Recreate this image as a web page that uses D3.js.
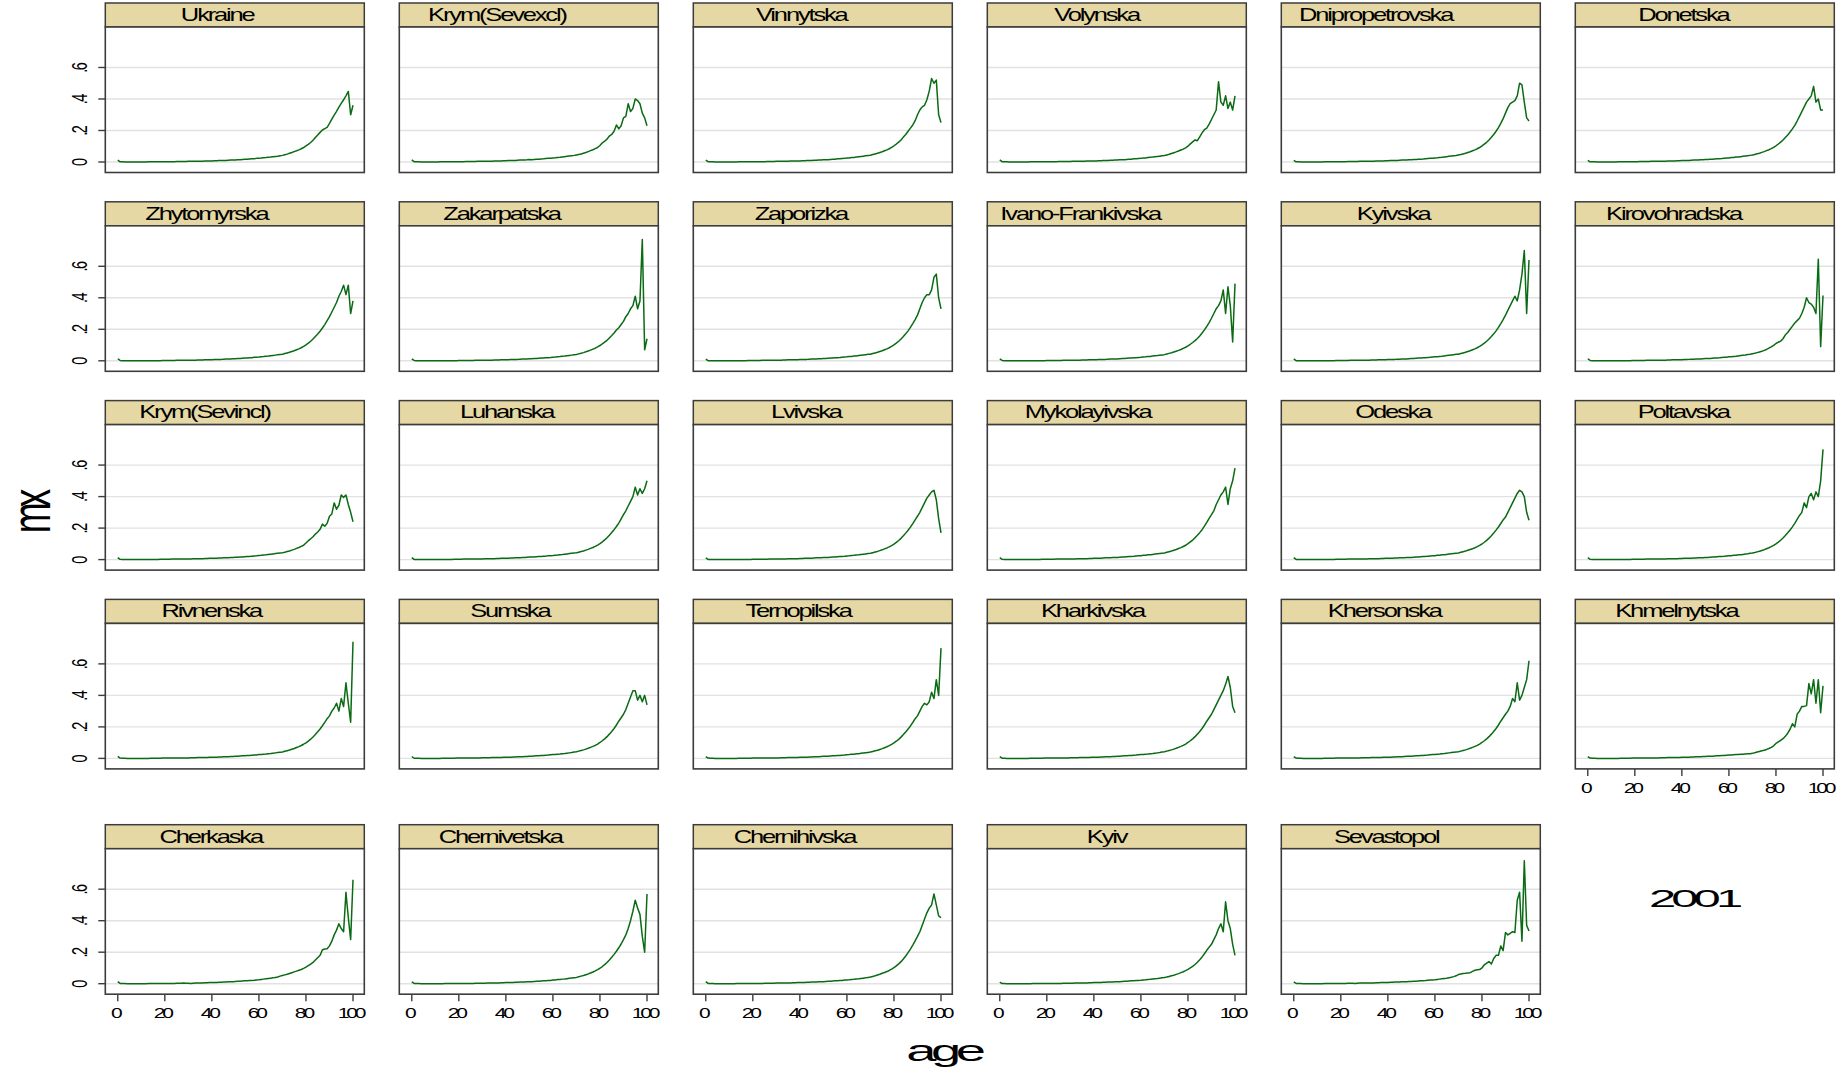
<!DOCTYPE html>
<html><head><meta charset="utf-8">
<script src="https://cdn.jsdelivr.net/npm/d3@7"></script>
<style>
html,body{margin:0;padding:0;background:#fff;}
svg{display:block;font-family:"Liberation Sans",Arial,Helvetica,sans-serif;}
</style></head><body>
<svg id="chart" width="1836" height="1072"></svg>
<script>
// Age-specific death rates (mx), Ukraine and its regions, 2001. One value per single year of age 0..100.
const ages = d3.range(0, 101);

const mxUkraine = [
.012,.001,.001,.000,.000,.000,.000,.000,.000,.000,
.000,.000,.000,.001,.001,.001,.001,.001,.001,.002,
.002,.002,.002,.002,.002,.003,.003,.003,.003,.003,
.004,.004,.004,.004,.005,.005,.005,.006,.006,.007,
.007,.008,.008,.009,.009,.010,.010,.011,.012,.012,
.013,.014,.015,.016,.017,.018,.019,.020,.021,.023,
.024,.025,.027,.028,.030,.031,.033,.035,.037,.040,
.042,.046,.050,.055,.060,.066,.071,.077,.084,.092,
.102,.112,.124,.138,.155,.172,.188,.203,.212,.220,
.245,.272,.298,.322,.348,.372,.395,.420,.448,.300,.360];

const mxKrymExcl = [
.013,.002,.001,.001,.000,.000,.000,.000,.000,.000,
.000,.000,.001,.001,.001,.001,.001,.001,.002,.002,
.002,.002,.002,.003,.003,.003,.003,.003,.004,.004,
.004,.004,.005,.005,.005,.006,.006,.007,.007,.008,
.008,.009,.009,.010,.010,.011,.012,.012,.013,.014,
.016,.015,.016,.017,.018,.019,.020,.022,.023,.024,
.026,.027,.029,.030,.032,.034,.036,.038,.040,.042,
.045,.048,.051,.056,.060,.066,.072,.078,.085,.092,
.105,.122,.132,.145,.165,.175,.195,.235,.210,.230,
.280,.290,.370,.320,.340,.400,.390,.370,.310,.280,.230];

const mxVinnytska = [
.012,.002,.001,.001,.000,.000,.000,.000,.000,.000,
.000,.000,.000,.000,.001,.001,.001,.001,.001,.002,
.002,.002,.002,.002,.002,.002,.003,.003,.003,.003,
.004,.004,.004,.004,.005,.005,.006,.006,.006,.007,
.007,.008,.008,.009,.010,.010,.011,.011,.012,.013,
.014,.014,.015,.016,.017,.018,.020,.021,.022,.023,
.025,.026,.028,.029,.031,.033,.035,.037,.039,.041,
.043,.047,.051,.055,.060,.065,.071,.077,.084,.093,
.103,.114,.126,.140,.158,.175,.195,.215,.235,.262,
.300,.330,.350,.360,.395,.450,.530,.500,.520,.300,.250];

const mxVolynska = [
.013,.002,.001,.001,.000,.000,.000,.000,.000,.000,
.000,.000,.000,.001,.001,.001,.001,.001,.001,.002,
.002,.002,.002,.002,.002,.003,.003,.003,.003,.003,
.003,.004,.004,.004,.005,.005,.005,.006,.006,.006,
.007,.007,.008,.008,.009,.010,.010,.011,.011,.012,
.013,.014,.014,.015,.016,.017,.018,.020,.021,.022,
.023,.025,.026,.028,.030,.031,.033,.035,.037,.039,
.041,.045,.049,.054,.059,.064,.070,.076,.082,.090,
.100,.115,.128,.140,.135,.160,.185,.205,.215,.240,
.270,.300,.330,.510,.380,.360,.420,.340,.380,.330,.420];

const mxDnipropetrovska = [
.011,.001,.001,.000,.000,.000,.000,.000,.000,.000,
.000,.000,.000,.001,.001,.001,.001,.001,.002,.002,
.002,.002,.002,.003,.003,.003,.003,.003,.004,.004,
.004,.004,.005,.005,.005,.006,.006,.007,.007,.008,
.008,.009,.009,.010,.010,.011,.012,.012,.013,.014,
.015,.016,.016,.017,.018,.019,.021,.022,.023,.024,
.026,.027,.029,.030,.032,.034,.036,.038,.040,.041,
.044,.047,.051,.055,.060,.065,.071,.077,.084,.092,
.102,.113,.125,.140,.157,.175,.195,.218,.245,.275,
.310,.345,.370,.380,.390,.420,.500,.490,.380,.280,.260];

const mxDonetska = [
.011,.001,.001,.001,.000,.000,.000,.000,.000,.000,
.000,.000,.000,.001,.001,.001,.001,.001,.002,.002,
.002,.002,.003,.003,.003,.003,.003,.004,.004,.004,
.004,.005,.005,.005,.006,.006,.007,.007,.008,.008,
.009,.009,.010,.010,.011,.012,.012,.013,.014,.015,
.016,.016,.017,.018,.019,.020,.021,.022,.024,.025,
.026,.028,.029,.031,.032,.034,.036,.038,.040,.042,
.044,.048,.052,.056,.061,.066,.072,.078,.085,.093,
.103,.114,.126,.140,.156,.172,.190,.210,.232,.260,
.290,.320,.350,.380,.400,.420,.480,.380,.400,.330,.330];

const mxZhytomyrska = [
.013,.002,.001,.001,.000,.000,.000,.000,.000,.000,
.000,.000,.000,.001,.001,.001,.001,.001,.001,.002,
.002,.002,.002,.002,.002,.003,.003,.003,.003,.003,
.004,.004,.004,.004,.005,.005,.005,.006,.006,.007,
.007,.008,.008,.009,.009,.010,.011,.011,.012,.013,
.013,.014,.015,.016,.017,.018,.019,.020,.022,.023,
.024,.026,.027,.029,.030,.032,.034,.036,.038,.040,
.042,.046,.050,.054,.059,.064,.070,.076,.083,.091,
.101,.112,.124,.138,.154,.170,.188,.208,.230,.255,
.280,.310,.340,.370,.410,.440,.480,.420,.480,.300,.380];

const mxZakarpatska = [
.012,.002,.001,.001,.000,.000,.000,.000,.000,.000,
.000,.000,.000,.000,.001,.001,.001,.001,.001,.001,
.002,.002,.002,.002,.002,.002,.002,.003,.003,.003,
.003,.003,.004,.004,.004,.005,.005,.005,.006,.006,
.007,.007,.008,.008,.009,.009,.010,.011,.011,.012,
.013,.013,.014,.015,.016,.017,.018,.019,.020,.021,
.023,.024,.026,.027,.029,.030,.032,.034,.036,.038,
.040,.044,.048,.052,.057,.062,.068,.074,.080,.088,
.097,.107,.118,.130,.145,.160,.176,.195,.210,.230,
.250,.280,.300,.330,.350,.410,.330,.380,.770,.070,.140];

const mxZaporizka = [
.011,.001,.001,.000,.000,.000,.000,.000,.000,.000,
.000,.000,.000,.001,.001,.001,.001,.001,.002,.002,
.002,.002,.002,.002,.003,.003,.003,.003,.003,.004,
.004,.004,.004,.005,.005,.006,.006,.006,.007,.007,
.008,.008,.009,.009,.010,.011,.011,.012,.013,.013,
.014,.015,.016,.017,.018,.019,.020,.021,.023,.024,
.025,.027,.028,.030,.031,.033,.035,.037,.039,.041,
.042,.046,.050,.054,.059,.064,.070,.076,.083,.091,
.101,.112,.124,.138,.154,.171,.190,.212,.236,.262,
.290,.330,.370,.400,.420,.420,.450,.530,.550,.400,.330];

const mxIvanoFrankivska = [
.012,.002,.001,.001,.000,.000,.000,.000,.000,.000,
.000,.000,.000,.000,.001,.001,.001,.001,.001,.001,
.002,.002,.002,.002,.002,.002,.002,.003,.003,.003,
.003,.003,.004,.004,.004,.005,.005,.005,.006,.006,
.007,.007,.008,.008,.009,.009,.010,.011,.011,.012,
.012,.013,.014,.015,.016,.017,.018,.019,.020,.021,
.022,.024,.025,.027,.028,.030,.032,.033,.035,.037,
.039,.043,.047,.051,.056,.061,.066,.072,.079,.086,
.095,.105,.116,.128,.142,.158,.176,.196,.218,.242,
.270,.300,.330,.350,.380,.450,.300,.470,.350,.120,.490];

const mxKyivska = [
.012,.001,.001,.001,.000,.000,.000,.000,.000,.000,
.000,.000,.000,.001,.001,.001,.001,.001,.002,.002,
.002,.002,.002,.002,.003,.003,.003,.003,.003,.004,
.004,.004,.004,.005,.005,.005,.006,.006,.007,.007,
.008,.008,.009,.009,.010,.010,.011,.012,.012,.013,
.014,.015,.016,.017,.018,.019,.020,.021,.022,.024,
.025,.026,.028,.029,.031,.033,.035,.037,.039,.041,
.042,.046,.050,.054,.059,.064,.070,.076,.083,.091,
.101,.112,.124,.138,.154,.171,.190,.212,.236,.262,
.290,.320,.350,.380,.410,.380,.450,.550,.700,.300,.640];

const mxKirovohradska = [
.013,.002,.001,.001,.000,.000,.000,.000,.000,.000,
.000,.000,.000,.001,.001,.001,.001,.001,.001,.002,
.002,.002,.002,.002,.002,.003,.003,.003,.003,.003,
.004,.004,.004,.004,.005,.005,.006,.006,.006,.007,
.007,.008,.008,.009,.010,.010,.011,.011,.012,.013,
.014,.014,.015,.016,.017,.018,.019,.021,.022,.023,
.025,.026,.028,.029,.031,.033,.035,.037,.040,.042,
.045,.048,.052,.056,.060,.066,.072,.080,.088,.098,
.110,.118,.125,.140,.165,.180,.200,.220,.240,.255,
.270,.300,.340,.400,.370,.360,.340,.300,.645,.090,.415];

const mxKrymIncl = [
.013,.002,.001,.001,.000,.000,.000,.000,.000,.000,
.000,.000,.001,.001,.001,.001,.001,.001,.002,.002,
.002,.002,.002,.003,.003,.003,.003,.003,.004,.004,
.004,.004,.005,.005,.005,.006,.006,.007,.007,.008,
.008,.009,.009,.010,.010,.011,.012,.012,.013,.014,
.015,.015,.016,.017,.018,.019,.020,.022,.023,.024,
.026,.027,.029,.030,.032,.034,.036,.038,.040,.042,
.044,.047,.051,.055,.060,.065,.071,.077,.084,.091,
.105,.120,.132,.145,.162,.175,.192,.225,.212,.230,
.275,.290,.360,.320,.345,.410,.395,.410,.350,.300,.240];

const mxLuhanska = [
.012,.001,.001,.001,.000,.000,.000,.000,.000,.000,
.000,.000,.000,.001,.001,.001,.001,.001,.002,.002,
.002,.002,.003,.003,.003,.003,.003,.004,.004,.004,
.004,.005,.005,.005,.006,.006,.007,.007,.008,.008,
.009,.009,.010,.010,.011,.012,.012,.013,.014,.015,
.016,.016,.017,.018,.019,.020,.021,.022,.024,.025,
.026,.028,.029,.031,.032,.034,.036,.038,.040,.042,
.043,.047,.051,.055,.060,.065,.071,.077,.084,.092,
.102,.113,.125,.139,.155,.172,.190,.210,.232,.258,
.285,.310,.340,.370,.400,.460,.410,.450,.420,.450,.500];

const mxLvivska = [
.011,.001,.001,.000,.000,.000,.000,.000,.000,.000,
.000,.000,.000,.000,.001,.001,.001,.001,.001,.001,
.002,.002,.002,.002,.002,.002,.002,.003,.003,.003,
.003,.003,.004,.004,.004,.005,.005,.005,.006,.006,
.007,.007,.008,.008,.009,.009,.010,.011,.011,.012,
.013,.013,.014,.015,.016,.017,.018,.019,.020,.021,
.023,.024,.026,.027,.029,.030,.032,.034,.036,.038,
.040,.044,.048,.052,.057,.062,.068,.074,.081,.089,
.098,.109,.121,.135,.151,.168,.186,.206,.228,.252,
.275,.300,.330,.360,.390,.410,.430,.440,.380,.260,.170];

const mxMykolayivska = [
.012,.002,.001,.001,.000,.000,.000,.000,.000,.000,
.000,.000,.000,.001,.001,.001,.001,.001,.002,.002,
.002,.002,.002,.002,.003,.003,.003,.003,.003,.004,
.004,.004,.004,.005,.005,.006,.006,.006,.007,.007,
.008,.008,.009,.009,.010,.011,.011,.012,.013,.013,
.014,.015,.016,.017,.018,.019,.020,.021,.023,.024,
.025,.027,.028,.030,.031,.033,.035,.037,.039,.041,
.042,.046,.050,.054,.059,.064,.070,.076,.083,.091,
.101,.112,.124,.138,.154,.171,.190,.212,.236,.262,
.285,.310,.350,.380,.410,.430,.460,.350,.450,.500,.580];

const mxOdeska = [
.012,.001,.001,.001,.000,.000,.000,.000,.000,.000,
.000,.000,.000,.001,.001,.001,.001,.001,.002,.002,
.002,.002,.002,.003,.003,.003,.003,.003,.004,.004,
.004,.004,.005,.005,.005,.006,.006,.007,.007,.008,
.008,.009,.009,.010,.010,.011,.012,.012,.013,.014,
.014,.015,.016,.017,.018,.019,.020,.022,.023,.024,
.025,.027,.028,.030,.031,.033,.035,.037,.039,.041,
.042,.046,.050,.054,.059,.064,.069,.075,.082,.090,
.099,.110,.122,.136,.152,.169,.187,.207,.229,.252,
.270,.300,.330,.360,.390,.420,.440,.430,.400,.300,.250];

const mxPoltavska = [
.012,.002,.001,.001,.000,.000,.000,.000,.000,.000,
.000,.000,.000,.001,.001,.001,.001,.001,.001,.002,
.002,.002,.002,.002,.002,.003,.003,.003,.003,.003,
.004,.004,.004,.004,.005,.005,.005,.006,.006,.007,
.007,.008,.008,.009,.009,.010,.010,.011,.012,.012,
.013,.014,.015,.016,.017,.018,.019,.020,.021,.023,
.024,.025,.027,.028,.030,.031,.033,.035,.037,.040,
.042,.045,.049,.053,.058,.063,.069,.075,.082,.090,
.100,.111,.123,.137,.153,.170,.188,.208,.230,.255,
.280,.300,.360,.330,.400,.420,.380,.430,.400,.500,.700];

const mxRivnenska = [
.013,.002,.001,.001,.000,.000,.000,.000,.000,.000,
.000,.000,.000,.000,.001,.001,.001,.001,.001,.002,
.002,.002,.002,.002,.002,.002,.003,.003,.003,.003,
.003,.004,.004,.004,.005,.005,.005,.006,.006,.007,
.007,.008,.008,.009,.009,.010,.010,.011,.012,.012,
.013,.014,.015,.016,.017,.018,.019,.020,.021,.022,
.024,.025,.027,.028,.030,.031,.033,.035,.037,.039,
.041,.045,.049,.053,.058,.063,.069,.075,.082,.090,
.099,.110,.122,.136,.152,.169,.187,.207,.229,.252,
.270,.300,.320,.350,.300,.380,.330,.480,.350,.230,.740];

const mxSumska = [
.012,.001,.001,.001,.000,.000,.000,.000,.000,.000,
.000,.000,.000,.001,.001,.001,.001,.001,.001,.002,
.002,.002,.002,.002,.002,.003,.003,.003,.003,.003,
.004,.004,.004,.004,.005,.005,.005,.006,.006,.007,
.007,.008,.008,.009,.009,.010,.010,.011,.012,.012,
.013,.014,.015,.016,.017,.018,.019,.020,.021,.023,
.024,.025,.027,.028,.030,.031,.033,.035,.037,.040,
.042,.046,.050,.054,.059,.064,.070,.076,.083,.091,
.101,.112,.124,.138,.154,.171,.190,.212,.236,.258,
.280,.310,.350,.390,.430,.430,.370,.400,.360,.400,.340];

const mxTernopilska = [
.012,.002,.001,.001,.000,.000,.000,.000,.000,.000,
.000,.000,.000,.000,.001,.001,.001,.001,.001,.001,
.002,.002,.002,.002,.002,.002,.002,.003,.003,.003,
.003,.003,.004,.004,.004,.005,.005,.005,.006,.006,
.007,.007,.008,.008,.009,.009,.010,.011,.011,.012,
.013,.013,.014,.015,.016,.017,.018,.019,.020,.021,
.023,.024,.026,.027,.029,.030,.032,.034,.036,.038,
.040,.044,.048,.052,.057,.062,.068,.074,.081,.089,
.098,.109,.121,.135,.151,.168,.186,.206,.228,.252,
.270,.300,.330,.350,.340,.360,.420,.380,.500,.400,.700];

const mxKharkivska = [
.011,.001,.001,.000,.000,.000,.000,.000,.000,.000,
.000,.000,.000,.001,.001,.001,.001,.001,.001,.002,
.002,.002,.002,.002,.002,.003,.003,.003,.003,.003,
.004,.004,.004,.004,.005,.005,.005,.006,.006,.007,
.007,.008,.008,.009,.009,.010,.010,.011,.012,.012,
.013,.014,.015,.016,.017,.018,.019,.020,.021,.023,
.024,.025,.027,.028,.030,.031,.033,.035,.037,.040,
.042,.046,.050,.054,.059,.064,.070,.076,.083,.091,
.101,.112,.124,.138,.154,.171,.190,.212,.236,.258,
.280,.310,.340,.370,.400,.430,.470,.520,.450,.330,.290];

const mxKhersonska = [
.012,.002,.001,.001,.000,.000,.000,.000,.000,.000,
.000,.000,.000,.001,.001,.001,.001,.001,.002,.002,
.002,.002,.002,.002,.003,.003,.003,.003,.003,.004,
.004,.004,.004,.005,.005,.006,.006,.006,.007,.007,
.008,.008,.009,.009,.010,.011,.011,.012,.013,.013,
.014,.015,.016,.017,.018,.019,.020,.021,.023,.024,
.025,.027,.028,.030,.031,.033,.035,.037,.039,.041,
.042,.046,.050,.054,.059,.064,.070,.076,.083,.091,
.101,.112,.124,.138,.154,.171,.190,.212,.236,.258,
.280,.300,.330,.380,.360,.480,.370,.400,.450,.500,.620];

const mxKhmelnytska = [
.012,.002,.001,.001,.000,.000,.000,.000,.000,.000,
.000,.000,.000,.000,.001,.001,.001,.001,.001,.002,
.002,.002,.002,.002,.002,.002,.003,.003,.003,.003,
.003,.004,.004,.004,.005,.005,.005,.006,.006,.006,
.007,.007,.008,.008,.009,.009,.010,.011,.011,.012,
.012,.013,.014,.014,.015,.016,.017,.018,.019,.020,
.021,.022,.023,.024,.025,.026,.027,.028,.029,.030,
.032,.036,.040,.044,.048,.052,.057,.063,.070,.080,
.095,.105,.115,.125,.140,.160,.185,.220,.200,.280,
.300,.330,.330,.335,.475,.410,.500,.350,.500,.290,.460];

const mxCherkaska = [
.013,.002,.001,.001,.000,.000,.000,.000,.000,.000,
.000,.000,.000,.001,.001,.001,.001,.001,.001,.002,
.002,.002,.002,.002,.002,.003,.003,.003,.004,.003,
.003,.002,.003,.004,.005,.005,.005,.006,.006,.007,
.007,.008,.008,.009,.009,.010,.011,.012,.013,.013,
.014,.015,.016,.017,.018,.019,.020,.021,.022,.024,
.025,.027,.029,.031,.033,.035,.037,.040,.043,.048,
.052,.056,.060,.065,.070,.075,.080,.085,.090,.097,
.105,.115,.125,.135,.150,.165,.180,.215,.220,.222,
.240,.270,.310,.340,.380,.350,.330,.580,.420,.280,.660];

const mxChernivetska = [
.012,.002,.001,.001,.000,.000,.000,.000,.000,.000,
.000,.000,.000,.000,.001,.001,.001,.001,.001,.001,
.002,.002,.002,.002,.002,.002,.002,.003,.003,.003,
.003,.003,.004,.004,.004,.005,.005,.005,.006,.006,
.007,.007,.008,.008,.009,.009,.010,.011,.011,.012,
.013,.013,.014,.015,.016,.017,.018,.019,.020,.021,
.023,.024,.026,.027,.029,.030,.032,.034,.036,.038,
.040,.044,.048,.052,.057,.062,.068,.074,.081,.089,
.098,.109,.121,.135,.151,.168,.186,.206,.228,.252,
.280,.310,.350,.400,.460,.530,.480,.440,.300,.200,.570];

const mxChernihivska = [
.013,.002,.001,.001,.000,.000,.000,.000,.000,.000,
.000,.000,.000,.001,.001,.001,.001,.001,.001,.002,
.002,.002,.002,.002,.002,.003,.003,.003,.003,.003,
.004,.004,.004,.004,.005,.005,.005,.006,.006,.007,
.007,.008,.008,.009,.009,.010,.010,.011,.012,.012,
.013,.014,.015,.016,.017,.018,.019,.020,.021,.023,
.024,.025,.027,.028,.030,.031,.033,.035,.037,.040,
.042,.046,.050,.055,.060,.066,.071,.077,.084,.092,
.102,.113,.126,.140,.157,.176,.197,.220,.245,.272,
.300,.330,.370,.410,.450,.480,.500,.570,.500,.430,.420];

const mxKyiv = [
.010,.001,.001,.000,.000,.000,.000,.000,.000,.000,
.000,.000,.000,.000,.001,.001,.001,.001,.001,.001,
.002,.002,.002,.002,.002,.002,.002,.003,.003,.003,
.003,.003,.004,.004,.004,.005,.005,.005,.006,.006,
.007,.007,.008,.008,.009,.009,.010,.011,.011,.012,
.012,.013,.014,.015,.016,.017,.018,.019,.020,.021,
.022,.024,.025,.027,.028,.030,.032,.033,.035,.037,
.039,.042,.046,.050,.054,.059,.064,.070,.076,.083,
.091,.100,.110,.122,.136,.152,.170,.190,.212,.232,
.250,.280,.310,.350,.380,.330,.520,.400,.350,.250,.180];

const mxSevastopol = [
.011,.002,.001,.001,.000,.000,.000,.000,.000,.000,
.000,.000,.000,.001,.001,.001,.001,.001,.002,.002,
.002,.002,.002,.003,.003,.003,.002,.003,.004,.004,
.004,.004,.005,.005,.005,.006,.006,.007,.007,.008,
.008,.009,.009,.010,.010,.011,.012,.012,.013,.014,
.014,.015,.016,.017,.018,.019,.020,.022,.023,.024,
.025,.027,.029,.031,.033,.035,.038,.041,.045,.050,
.058,.062,.065,.066,.068,.070,.078,.085,.088,.090,
.100,.120,.130,.140,.125,.160,.180,.180,.240,.210,
.325,.310,.320,.330,.325,.530,.580,.270,.780,.370,.335];

// Panel titles and their series, in row-major order
const regionNames = [
  "Ukraine","Krym(Sevexcl)","Vinnytska","Volynska","Dnipropetrovska","Donetska",
  "Zhytomyrska","Zakarpatska","Zaporizka","Ivano-Frankivska","Kyivska","Kirovohradska",
  "Krym(Sevincl)","Luhanska","Lvivska","Mykolayivska","Odeska","Poltavska",
  "Rivnenska","Sumska","Ternopilska","Kharkivska","Khersonska","Khmelnytska",
  "Cherkaska","Chernivetska","Chernihivska","Kyiv","Sevastopol"];
const regionSeries = [
  mxUkraine, mxKrymExcl, mxVinnytska, mxVolynska, mxDnipropetrovska, mxDonetska,
  mxZhytomyrska, mxZakarpatska, mxZaporizka, mxIvanoFrankivska, mxKyivska, mxKirovohradska,
  mxKrymIncl, mxLuhanska, mxLvivska, mxMykolayivska, mxOdeska, mxPoltavska,
  mxRivnenska, mxSumska, mxTernopilska, mxKharkivska, mxKhersonska, mxKhmelnytska,
  mxCherkaska, mxChernivetska, mxChernihivska, mxKyiv, mxSevastopol];

const yTicks = [0, 0.2, 0.4, 0.6];
const yTickLabels = ["0", ".2", ".4", ".6"];
const xTicks = [0, 20, 40, 60, 80, 100];
const yearLabel = "2001";
const xTitle = "age";
const yTitle = "mx";

// ---- layout ----
const svg = d3.select("#chart");
const nCols = 6;
const panelW = 259, headerH = 24, plotH = 145.5;
const colX = c => 105.3 + c * 294;
const rowY = [3, 201.8, 400.6, 599.4, 824.7];

const x = d3.scaleLinear().domain([-5.3, 104.8]).range([0, panelW]);
const y = d3.scaleLinear().domain([-0.0667, 0.857]).range([plotH, 0]);

const frameColor = "#3c3c3c";
const lineColor = "#0b6a14";

// Text drawn with Stata-like wide glyphs and tight tracking
function stretchedText(parent, o) {
  const g = parent.append("g")
    .attr("transform", `translate(${o.x},${o.y}) scale(${o.sx},1)` + (o.rotate ? " rotate(-90)" : ""));
  const t = g.append("text")
    .attr("font-size", o.size)
    .attr("letter-spacing", o.ls + "em")
    .attr("fill", o.fill || "#000")
    .text(o.text);
  const w = t.node().getComputedTextLength() - o.ls * o.size;
  t.attr("x", -o.anchor * w);
  return t;
}

// a panel carries an x axis if no panel sits below it
const hasXAxis = i => {
  const r = Math.floor(i / nCols), c = i % nCols;
  return (r + 1) * nCols + c >= regionNames.length;
};

const line = d3.line().x((d, i) => x(ages[i])).y(d => y(d));

regionNames.forEach((name, i) => {
  const r = Math.floor(i / nCols), c = i % nCols;
  const left = colX(c), top = rowY[r];
  const p = svg.append("g").attr("transform", `translate(${left},${top})`);

  // strip header
  p.append("rect").attr("x", 0).attr("y", 0).attr("width", panelW).attr("height", headerH)
    .attr("fill", "#e5d8a4").attr("stroke", frameColor).attr("stroke-width", 1.5);
  stretchedText(p, {x: panelW / 2, y: 17.8, text: name, size: 18.5, sx: 1.38, ls: -0.085, anchor: 0.72});

  const plot = p.append("g").attr("transform", `translate(0,${headerH})`);
  plot.append("rect").attr("width", panelW).attr("height", plotH).attr("fill", "#fff");

  // horizontal grid
  plot.selectAll("line.grid").data(yTicks).join("line")
    .attr("class", "grid")
    .attr("x1", 0).attr("x2", panelW)
    .attr("y1", d => y(d)).attr("y2", d => y(d))
    .attr("stroke", "#e2e2e2").attr("stroke-width", 1.4);

  // series
  plot.append("path").datum(regionSeries[i])
    .attr("d", line).attr("fill", "none")
    .attr("stroke", lineColor).attr("stroke-width", 1.5).attr("stroke-linejoin", "round");

  // frame
  plot.append("rect").attr("width", panelW).attr("height", plotH)
    .attr("fill", "none").attr("stroke", frameColor).attr("stroke-width", 1.6);

  // y axis on first column
  if (c === 0) {
    plot.selectAll("line.ytick").data(yTicks).join("line")
      .attr("class", "ytick")
      .attr("x1", -7).attr("x2", 0)
      .attr("y1", d => y(d)).attr("y2", d => y(d))
      .attr("stroke", frameColor).attr("stroke-width", 1.4);
    yTicks.forEach((v, k) => {
      stretchedText(plot, {x: -18, y: y(v), text: yTickLabels[k], size: 14.5, sx: 1.5, ls: -0.1, anchor: 0.5, rotate: true});
    });
  }

  // x axis where nothing sits below
  if (hasXAxis(i)) {
    plot.selectAll("line.xtick").data(xTicks).join("line")
      .attr("class", "xtick")
      .attr("x1", d => x(d)).attr("x2", d => x(d))
      .attr("y1", plotH).attr("y2", plotH + 7)
      .attr("stroke", frameColor).attr("stroke-width", 1.4);
    xTicks.forEach(v => {
      stretchedText(plot, {x: x(v) - 1, y: plotH + 24, text: String(v), size: 14.5, sx: 1.45, ls: -0.15, anchor: 0.5});
    });
  }
});

// axis titles and year note
stretchedText(svg, {x: 50, y: 511, text: yTitle, size: 37, sx: 1.48, ls: -0.13, anchor: 0.5, rotate: true});
stretchedText(svg, {x: 946, y: 1061, text: xTitle, size: 29.5, sx: 1.84, ls: -0.1, anchor: 0.5});
stretchedText(svg, {x: 1696, y: 907, text: yearLabel, size: 24.5, sx: 2.0, ls: -0.1, anchor: 0.5});
</script>
</body></html>
